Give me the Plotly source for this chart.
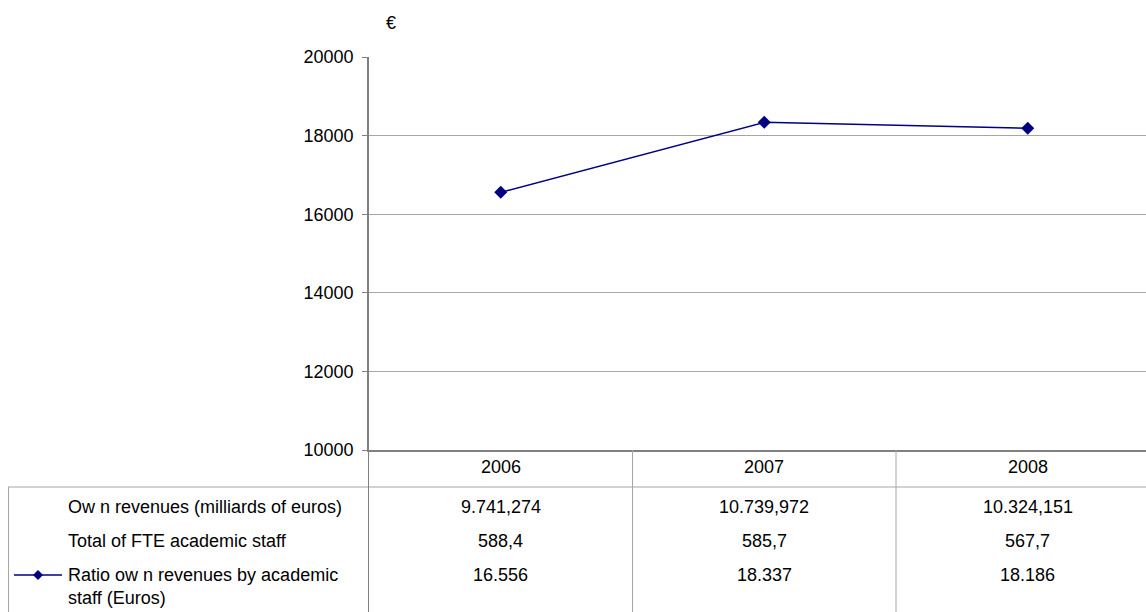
import plotly.graph_objects as go

years = ["2006", "2007", "2008"]
ratio = [16556, 18337, 18186]
row_labels = ["Ow n revenues (milliards of euros)", "Total of FTE academic staff",
              "Ratio ow n revenues by academic<br>staff (Euros)"]
own_revenues_txt = ["9.741,274", "10.739,972", "10.324,151"]
fte_staff_txt = ["588,4", "585,7", "567,7"]
ratio_txt = ["16.556", "18.337", "18.186"]
y_ticks = [10000, 12000, 14000, 16000, 18000, 20000]

W, H = 1146, 612
L, R, T, B = 369, 0, 57, 162
PW = W - L - R
PH = H - T - B
COLW = 263.5  # pixel width of one category column (plot runs past the right edge)

def px(x):
    return (x - L) / PW

def py(y):
    return (H - B - y) / PH

FONT = "Liberation Sans, Arial, sans-serif"
FS = 18
GRID = "#a6a6a6"
AXIS = "#808080"
NAVY = "#000080"

fig = go.Figure()
fig.add_trace(go.Scatter(
    x=years, y=ratio, mode="lines+markers",
    line=dict(color=NAVY, width=1.5),
    marker=dict(symbol="diamond", size=10, color=NAVY),
    showlegend=False, cliponaxis=False,
))

shapes = []
ann = []

def hline(x0, x1, y, color=GRID):
    shapes.append(dict(type="line", xref="paper", yref="paper",
                       x0=px(x0), x1=px(x1), y0=py(y), y1=py(y),
                       line=dict(color=color, width=1)))

def vline_paper(x, y0, y1, color=GRID):
    shapes.append(dict(type="line", xref="paper", yref="paper",
                       x0=px(x), x1=px(x), y0=py(y0), y1=py(y1),
                       line=dict(color=color, width=1)))

# table grid
hline(8, W, 487)
vline_paper(8.5, 487, 612)
vline_paper(368.5, 450, 612, AXIS)
for i in range(1, len(years)):
    shapes.append(dict(type="line", xref="x", yref="paper",
                       x0=i - 0.5, x1=i - 0.5, y0=py(450), y1=py(612),
                       line=dict(color=GRID, width=1)))

# header years and values
rows = [own_revenues_txt, fte_staff_txt, ratio_txt]
row_y = [507, 541, 575]
for i, yr in enumerate(years):
    ann.append(dict(text=yr, x=i, y=py(467), xref="x", yref="paper",
                    showarrow=False, xanchor="center", yanchor="middle"))
    for r, vals in enumerate(rows):
        ann.append(dict(text=vals[i], x=i, y=py(row_y[r]), xref="x", yref="paper",
                        showarrow=False, xanchor="center", yanchor="middle"))

# row labels
ann.append(dict(text=row_labels[0], x=px(66), y=py(507), xref="paper", yref="paper",
                showarrow=False, xanchor="left", yanchor="middle"))
ann.append(dict(text=row_labels[1], x=px(66), y=py(541), xref="paper", yref="paper",
                showarrow=False, xanchor="left", yanchor="middle"))
ann.append(dict(text=row_labels[2], x=px(66), y=py(563), xref="paper", yref="paper",
                showarrow=False, xanchor="left", yanchor="top", align="left"))

# legend key in table
shapes.append(dict(type="line", xref="paper", yref="paper",
                   x0=px(14), x1=px(62), y0=py(575), y1=py(575),
                   line=dict(color=NAVY, width=1.5)))
cx, cy, d = 38, 575, 5
shapes.append(dict(type="path", xref="paper", yref="paper",
                   path=f"M {px(cx-d)} {py(cy)} L {px(cx)} {py(cy-d)} L {px(cx+d)} {py(cy)} L {px(cx)} {py(cy+d)} Z",
                   fillcolor=NAVY, line=dict(color=NAVY, width=0)))

# euro sign
ann.append(dict(text="€", x=px(391), y=py(23), xref="paper", yref="paper",
                showarrow=False, xanchor="center", yanchor="middle"))

fig.update_layout(
    width=W, height=H,
    margin=dict(l=L, r=R, t=T, b=B),
    paper_bgcolor="white", plot_bgcolor="white",
    font=dict(family=FONT, size=FS, color="black"),
    shapes=shapes, annotations=ann,
    xaxis=dict(type="category", range=[-0.5, -0.5 + PW / COLW], showticklabels=False,
               showgrid=False, zeroline=False, showline=True, linecolor=AXIS,
               linewidth=1.5, ticks=""),
    yaxis=dict(range=[10000, 20000], tickvals=y_ticks, tickformat="d", showgrid=True,
               gridcolor=GRID, gridwidth=1, zeroline=False, showline=True,
               linecolor=AXIS, linewidth=1.5, ticks="outside", ticklen=5,
               tickcolor=AXIS, tickfont=dict(size=FS), ticklabelstandoff=5),
)

fig.write_html("out.html", config={"displayModeBar": False},
               post_script="document.body.style.margin='0';document.body.style.overflow='hidden';")
